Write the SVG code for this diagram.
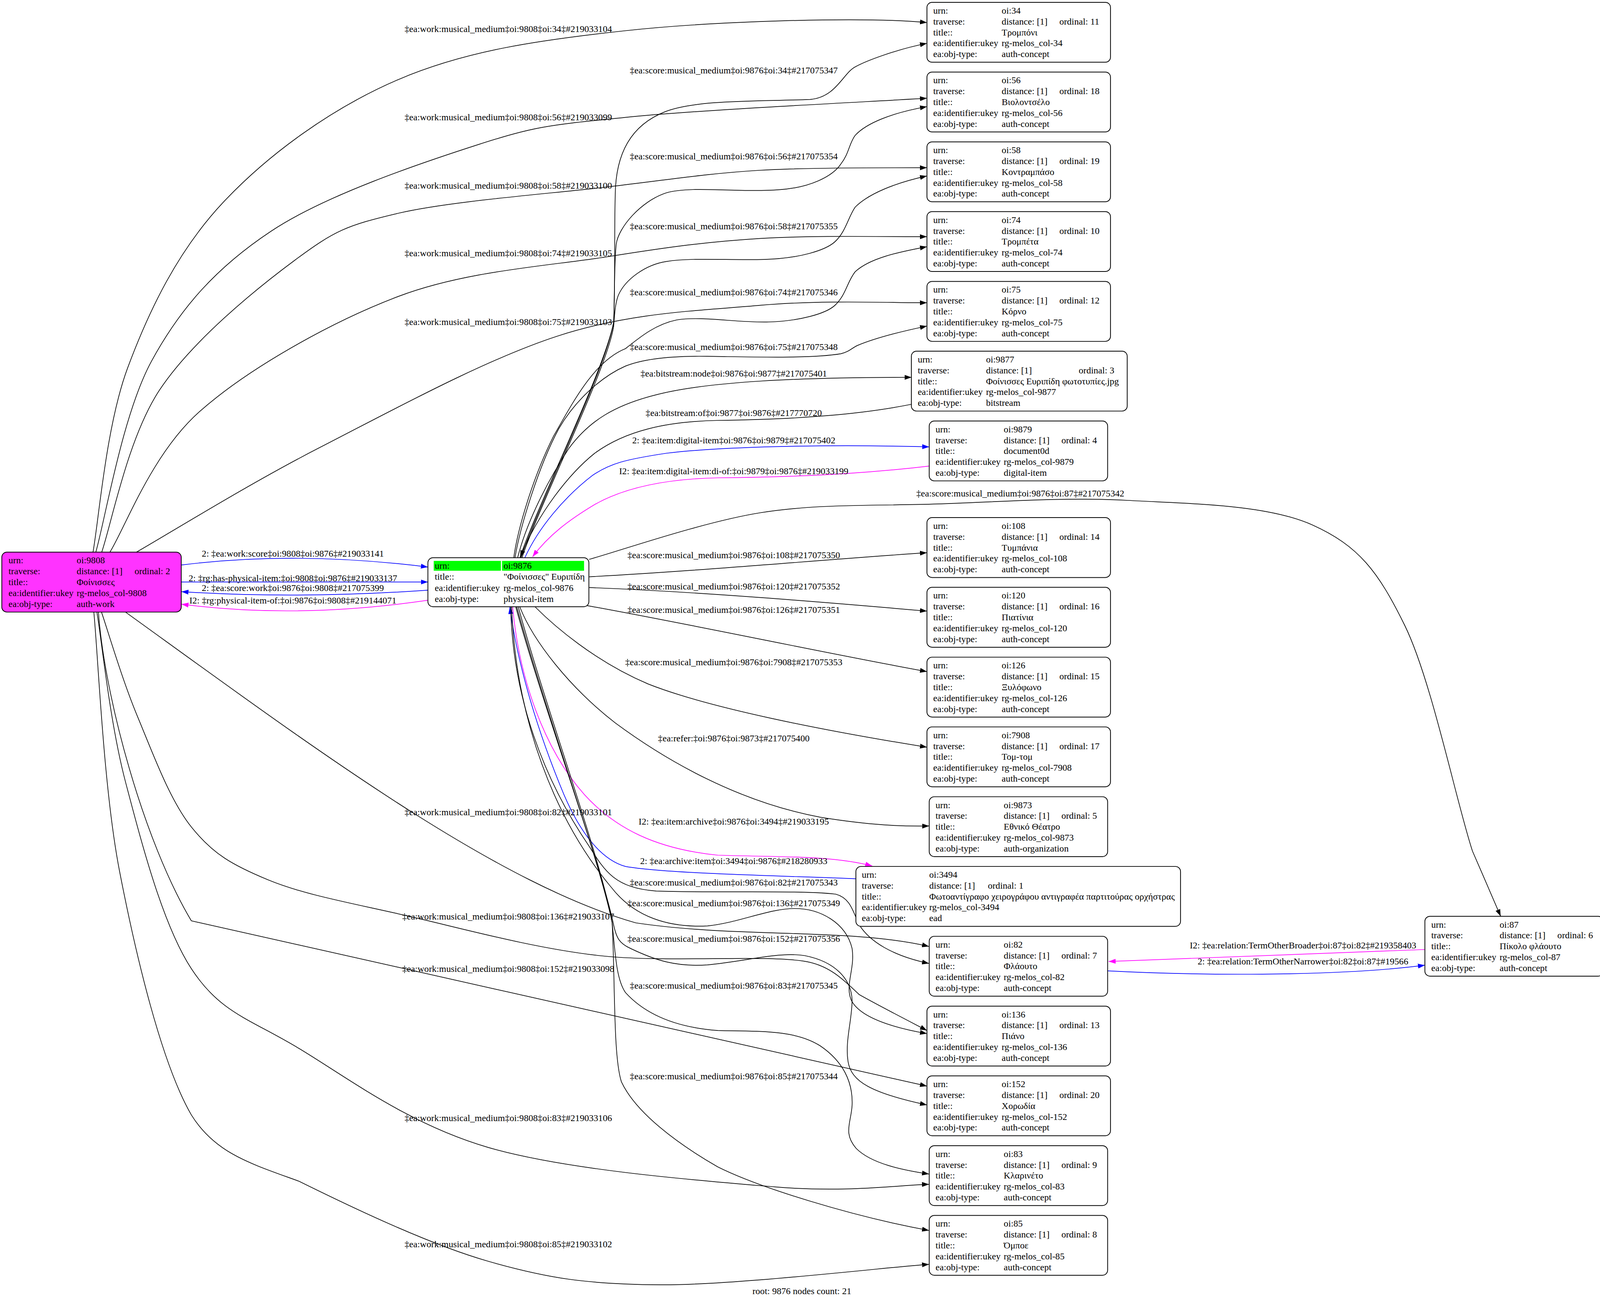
<svg xmlns="http://www.w3.org/2000/svg" width="4112" height="3328" viewBox="0 0 4112 3328">
<style>
text{font-family:'Liberation Serif','Times New Roman',serif;font-size:9px;fill:#000}
.lab{text-anchor:middle}
.n{fill:#fff;stroke:#000;stroke-width:0.75}
.e{fill:none;stroke:#000;stroke-width:0.65}
.k{marker-end:url(#ak)}
.b{stroke:#0000ff}
.bm{marker-end:url(#ab)}
.m{stroke:#ff00ff}
.mm{marker-end:url(#am)}
</style>
<defs>
<marker id="ak" viewBox="0 0 10 7" refX="10" refY="3.5" markerWidth="6.8" markerHeight="4.76" orient="auto" markerUnits="userSpaceOnUse"><path d="M0,0 L10,3.5 L0,7 z" fill="#000"/></marker>
<marker id="ab" viewBox="0 0 10 7" refX="10" refY="3.5" markerWidth="6.8" markerHeight="4.76" orient="auto" markerUnits="userSpaceOnUse"><path d="M0,0 L10,3.5 L0,7 z" fill="#0000ff"/></marker>
<marker id="am" viewBox="0 0 10 7" refX="10" refY="3.5" markerWidth="6.8" markerHeight="4.76" orient="auto" markerUnits="userSpaceOnUse"><path d="M0,0 L10,3.5 L0,7 z" fill="#ff00ff"/></marker>
</defs>
<rect x="0" y="0" width="4112" height="3328" fill="#fff"/>
<g transform="scale(2.625)">
<g id="connectors">
<path class="e k" d="M90.6,539 C96.2,509 103.2,416 124.4,359 C145.6,302 173.6,244.2 217.7,197.3 C261.8,150.4 323.4,105.4 388.7,77.5 C454,49.6 523.8,39.3 609.5,30 C695.2,20.7 840,16 904,22"/>
<path class="e k" d="M93.3,539 C102.4,507.9 119.2,404.6 147.7,352.3 C176.2,300 211.2,260.7 264.3,225.5 C317.4,190.3 408.9,159.5 466.4,141 C523.9,122.5 536.5,122 609.5,114.5 C682.5,107 854.9,98.9 904,95.8"/>
<path class="e k" d="M99,539 C108.4,512.6 124.1,428 155.5,380.5 C186.9,333 248.7,282.5 287.6,253.7 C326.5,224.9 337.5,219.9 388.7,207.9 C439.9,196 536.1,189 595,182 C653.9,175 690.5,169.1 742,166 C793.5,162.9 877,163.9 904,163.5"/>
<path class="e k" d="M106.9,539 C121.5,516.1 147.4,443.3 194.4,401.6 C241.4,359.9 321.9,314.3 388.7,289 C455.5,263.7 536.1,259.4 595,250 C653.9,240.6 690.5,235.7 742,232.5 C793.5,229.3 877,231.1 904,230.8"/>
<path class="e k" d="M132.2,539 C162,522 242.3,472.1 311,436.9 C379.7,401.7 472.4,350.8 544.2,327.6 C616,304.4 682,303.1 742,297.7 C802,292.3 877,295.6 904,295.2"/>
<path class="e k" d="M122.5,597 C300,725 480,860 620,900 C720,915 830,905 906,923"/>
<path class="e k" d="M99,597 C104.8,613.9 119.4,663.6 134,698.5 C148.6,733.4 165.3,779.9 186.6,806.5 C207.9,833.1 227,843.9 262,858.3 C297,872.7 343,880.75 396.5,893 C450,905.25 518.5,924.4 583,931.8 C647.5,939.2 741,930.9 783.5,937.3 C810,941 825,958 838,970 C858.1,981.3 893,999.2 904,1005"/>
<path class="e k" d="M96,597 C102,680 140,820 186.6,898 L904,1059.2"/>
<path class="e k" d="M94.5,597 C99.2,624.7 107.15,705 122.5,763 C137.85,821 158.4,901.5 186.6,944.7 C214.8,987.95 243.4,993.45 291.6,1022.5 C339.8,1051.55 398.7,1096.5 476,1119 C553.3,1141.5 684.3,1151.5 755.6,1157.5 C826.9,1163.5 879.3,1155.4 906,1155"/>
<path class="e k" d="M91.5,597 C95.7,639.1 100.75,768 116.6,849.7 C132.45,931.4 157.4,1036.9 186.6,1087.3 C210,1125 245,1135 291.6,1152 C339.8,1175.8 417.3,1213.2 476,1230 C534.7,1246.8 572.7,1252.5 644,1253 C715.3,1253.5 860.7,1236.3 906,1233"/>
<path class="e b bm" d="M177,551 Q290,537 417.3,553"/>
<path class="e b bm" d="M177,567.6 L417.3,567.6"/>
<path class="e b bm" d="M417.3,575.6 Q290,584.3 177,577"/>
<path class="e m mm" d="M417.3,585.4 Q290,603.9 177,589.2"/>
<path class="e k" d="M507,544 C525,490 590,360 598.5,314 C600,280 599,225 600,190 C600.5,150 615,122 649,108.8 C680,97 740,99 790,97 C815,95 822,72 833.5,65.5 C845,59 875,48 904,42.3"/>
<path class="e k" d="M508,544 C526,490 591,360 598.5,314 C599.5,285 599,255 601,238 C603,222 625,196 650,188 C675,181 720,188 760,185 C790,183 812,172 820,160 C828,150 828,140 834,132 C845,120 870,110 904,104"/>
<path class="e k" d="M509,544 C527,490 592,360 598.5,318 C599.5,305 600,296 603,288 C610,272 630,258 650,255 C675,251 710,254 746,253 C780,252 805,244 814,236 C825,226 827,212 834,202 C848,188 875,178 904,171.6"/>
<path class="e k" d="M501,544 C505,515 520,465 540,425 C560,390 580,352 610,340 C625,328 640,316 660,312 C685,308 720,315 750,314 C780,313 805,306 814,298 C825,288 826,275 834,265 C848,252 875,246 904,240.6"/>
<path class="e k" d="M502.2,544 C507,515 525,455 545,418 C560,392 585,368 610,357 C630,349 660,347 690,347.5 C730,348 790,350 820,345 C828,343 830,340 836,337 C855,329 880,323 904,318"/>
<path class="e k" d="M504.8,544 C512,515 530,475 555,437 C575,410 600,395 640,385 C690,372 780,368 889,368"/>
<path class="e k" d="M888.8,394.3 C840,404 780,409 700,410 C650,411 610,420 580,442 C555,462 525,500 507.3,543.5"/>
<path class="e b bm" d="M511.8,544 C525,515 550,485 578,463.5 C595,452 610,448 650,442 C700,436 800,433 906.2,435.8"/>
<path class="e m mm" d="M906.2,454.5 C860,460 800,465 700,466 C650,467 610,475 580,492 C555,507 535,522 519.4,543"/>
<path class="e k" d="M574.6,545.5 C602.5,537.9 685.2,509 741.8,500 C798.4,491 854.6,493.5 914.3,491.5 C974,489.5 1039,484.6 1100,488 C1161,491.4 1235,491.7 1280,512 C1325,532.3 1344,557 1370,610 C1396,663 1420.4,782.75 1436,830 C1445.2,851.2 1458.9,882.9 1463.5,893.6"/>
<path class="e k" d="M574.6,562.5 C680,557 800,546 904,539"/>
<path class="e k" d="M574.6,573 C680,577 800,587 904,596"/>
<path class="e k" d="M572,590.5 C680,610 800,636 904,655"/>
<path class="e k" d="M522,592 C540,610 580,645 632,667 C690,690 800,712 904,728.7"/>
<path class="e k" d="M507,592 C520,625 555,670 600,705 C650,742 720,782 800,797 C850,805 880,806 906.2,805.5"/>
<path class="e b bm" d="M834.7,857 C760,854 650,852 610,845 C585,838 565,810 550,775 C525,715 505,650 497.2,592"/>
<path class="e m mm" d="M500,592 C506,660 530,730 570,775 C600,808 640,828 700,834 C760,836 810,834 850.6,844.5"/>
<path class="e k" d="M498,592 C500,680 530,760 575,826 C590,850 600,866 640,869 C700,871 780,868 815,872 C830,876 832,890 838,902 C848,918 870,932 906,939.6"/>
<path class="e k" d="M499,592 C503,700 540,800 600,870 C620,893 650,905 690,903 C720,900 750,886 775,886 C800,886 825,900 831,925 C834,945 824,960 830,975 C838,992 870,1002 904,1008"/>
<path class="e k" d="M503,592 C530,690 585,840 598,900 C601,915 604,920 615,925 C640,937 660,943 690,941 C730,937 760,928 785,932 C815,938 830,955 831,975 C831,995 824,1015 827,1035 C830,1055 850,1066 904,1077.6"/>
<path class="e k" d="M504,592 C531,690 585,840 597,900 C600,930 601,955 610,968 C630,990 660,1002 700,1005 C740,1006 775,1004 800,1020 C822,1035 832,1055 831,1078 C830,1095 822,1105 835,1120 C850,1135 880,1141 906,1145"/>
<path class="e k" d="M505.5,592 C532,690 587,840 597,900 C600,960 598,1030 606,1055 C620,1085 660,1115 700,1138 C740,1158 830,1186 906,1200"/>
<path class="e m mm" d="M1389.6,926 L1081.2,937.7"/>
<path class="e b bm" d="M1080.2,946.8 C1160,951 1300,953 1389.6,941.3"/>
<g id="edge-labels">
<text class="lab" x="495.7" y="31.2">‡ea:work:musical_medium‡oi:9808‡oi:34‡#219033104</text>
<text class="lab" x="495.7" y="117.5">‡ea:work:musical_medium‡oi:9808‡oi:56‡#219033099</text>
<text class="lab" x="495.7" y="184">‡ea:work:musical_medium‡oi:9808‡oi:58‡#219033100</text>
<text class="lab" x="495.7" y="250">‡ea:work:musical_medium‡oi:9808‡oi:74‡#219033105</text>
<text class="lab" x="495.7" y="317">‡ea:work:musical_medium‡oi:9808‡oi:75‡#219033103</text>
<text class="lab" x="495.7" y="795.2">‡ea:work:musical_medium‡oi:9808‡oi:82‡#219033101</text>
<text class="lab" x="495.7" y="896.7">‡ea:work:musical_medium‡oi:9808‡oi:136‡#219033107</text>
<text class="lab" x="495.7" y="947.7">‡ea:work:musical_medium‡oi:9808‡oi:152‡#219033098</text>
<text class="lab" x="495.7" y="1093.3">‡ea:work:musical_medium‡oi:9808‡oi:83‡#219033106</text>
<text class="lab" x="495.7" y="1216.4">‡ea:work:musical_medium‡oi:9808‡oi:85‡#219033102</text>
<text class="lab" x="715.6" y="71.8">‡ea:score:musical_medium‡oi:9876‡oi:34‡#217075347</text>
<text class="lab" x="715.6" y="155.5">‡ea:score:musical_medium‡oi:9876‡oi:56‡#217075354</text>
<text class="lab" x="715.6" y="223.5">‡ea:score:musical_medium‡oi:9876‡oi:58‡#217075355</text>
<text class="lab" x="715.6" y="288">‡ea:score:musical_medium‡oi:9876‡oi:74‡#217075346</text>
<text class="lab" x="715.6" y="341.5">‡ea:score:musical_medium‡oi:9876‡oi:75‡#217075348</text>
<text class="lab" x="715.6" y="367.4">‡ea:bitstream:node‡oi:9876‡oi:9877‡#217075401</text>
<text class="lab" x="715.6" y="405.7">‡ea:bitstream:of‡oi:9877‡oi:9876‡#217770720</text>
<text class="lab" x="715.6" y="432.5">2: ‡ea:item:digital-item‡oi:9876‡oi:9879‡#217075402</text>
<text class="lab" x="715.6" y="462.4">I2: ‡ea:item:digital-item:di-of:‡oi:9879‡oi:9876‡#219033199</text>
<text class="lab" x="995" y="484">‡ea:score:musical_medium‡oi:9876‡oi:87‡#217075342</text>
<text class="lab" x="715.6" y="544.5">‡ea:score:musical_medium‡oi:9876‡oi:108‡#217075350</text>
<text class="lab" x="715.6" y="574.7">‡ea:score:musical_medium‡oi:9876‡oi:120‡#217075352</text>
<text class="lab" x="715.6" y="597.7">‡ea:score:musical_medium‡oi:9876‡oi:126‡#217075351</text>
<text class="lab" x="715.6" y="648.7">‡ea:score:musical_medium‡oi:9876‡oi:7908‡#217075353</text>
<text class="lab" x="715.6" y="723">‡ea:refer:‡oi:9876‡oi:9873‡#217075400</text>
<text class="lab" x="715.6" y="804">I2: ‡ea:item:archive‡oi:9876‡oi:3494‡#219033195</text>
<text class="lab" x="715.6" y="842.6">2: ‡ea:archive:item‡oi:3494‡oi:9876‡#218280933</text>
<text class="lab" x="715.6" y="863.7">‡ea:score:musical_medium‡oi:9876‡oi:82‡#217075343</text>
<text class="lab" x="715.6" y="883.7">‡ea:score:musical_medium‡oi:9876‡oi:136‡#217075349</text>
<text class="lab" x="715.6" y="918.4">‡ea:score:musical_medium‡oi:9876‡oi:152‡#217075356</text>
<text class="lab" x="715.6" y="964">‡ea:score:musical_medium‡oi:9876‡oi:83‡#217075345</text>
<text class="lab" x="715.6" y="1052.4">‡ea:score:musical_medium‡oi:9876‡oi:85‡#217075344</text>
<text class="lab" x="285.6" y="543">2: ‡ea:work:score‡oi:9808‡oi:9876‡#219033141</text>
<text class="lab" x="285.6" y="566.8">2: ‡rg:has-physical-item:‡oi:9808‡oi:9876‡#219033137</text>
<text class="lab" x="285.6" y="576.3">2: ‡ea:score:work‡oi:9876‡oi:9808‡#217075399</text>
<text class="lab" x="285.6" y="588.4">I2: ‡rg:physical-item-of:‡oi:9876‡oi:9808‡#219144071</text>
<text class="lab" x="1270.7" y="925.1">I2: ‡ea:relation:TermOtherBroader‡oi:87‡oi:82‡#219358403</text>
<text class="lab" x="1270.7" y="940.7">2: ‡ea:relation:TermOtherNarrower‡oi:82‡oi:87‡#19566</text>
</g>
</g>
<g id="n9808">
<rect x="1.75" y="538.5" width="175" height="58.4" rx="5" fill="#ff33ff" stroke="#000" stroke-width="0.75"/>
<text x="8.3" y="549.5">urn:</text><text x="74.8" y="549.5">oi:9808</text>
<text x="8.3" y="560.1">traverse:</text><text x="74.8" y="560.1">distance: [1]</text><text x="131.2" y="560.1">ordinal: 2</text>
<text x="8.3" y="570.7">title::</text><text x="74.8" y="570.7">Φοίνισσες</text>
<text x="8.3" y="581.3">ea:identifier:ukey</text><text x="74.8" y="581.3">rg-melos_col-9808</text>
<text x="8.3" y="591.9">ea:obj-type:</text><text x="74.8" y="591.9">auth-work</text>
</g>
<g id="n9876">
<rect class="n" x="417.3" y="543.9" width="157" height="47.8" rx="5"/>
<rect x="423" y="547" width="65.5" height="9.6" fill="#00ff00"/>
<rect x="489.6" y="547" width="80" height="9.6" fill="#00ff00"/>
<text x="424" y="554.8">urn:</text><text x="491" y="554.8">oi:9876</text>
<text x="424" y="565.5">title::</text><text x="491" y="565.5">"Φοίνισσες" Ευριπίδη</text>
<text x="424" y="576.3">ea:identifier:ukey</text><text x="491" y="576.3">rg-melos_col-9876</text>
<text x="424" y="586.9">ea:obj-type:</text><text x="491" y="586.9">physical-item</text>
</g>
<g id="n34">
<rect class="n" x="904" y="2.3" width="179" height="58.4" rx="5"/>
<text x="910.1" y="13.3">urn:</text><text x="976.9" y="13.3">oi:34</text>
<text x="910.1" y="23.9">traverse:</text><text x="976.9" y="23.9">distance: [1]</text><text x="1033.1" y="23.9">ordinal: 11</text>
<text x="910.1" y="34.5">title::</text><text x="976.9" y="34.5">Τρομπόνι</text>
<text x="910.1" y="45.1">ea:identifier:ukey</text><text x="976.9" y="45.1">rg-melos_col-34</text>
<text x="910.1" y="55.7">ea:obj-type:</text><text x="976.9" y="55.7">auth-concept</text>
</g>
<g id="n56">
<rect class="n" x="904" y="70.3" width="179" height="58.4" rx="5"/>
<text x="910.1" y="81.3">urn:</text><text x="976.9" y="81.3">oi:56</text>
<text x="910.1" y="91.9">traverse:</text><text x="976.9" y="91.9">distance: [1]</text><text x="1033.1" y="91.9">ordinal: 18</text>
<text x="910.1" y="102.5">title::</text><text x="976.9" y="102.5">Βιολοντσέλο</text>
<text x="910.1" y="113.1">ea:identifier:ukey</text><text x="976.9" y="113.1">rg-melos_col-56</text>
<text x="910.1" y="123.7">ea:obj-type:</text><text x="976.9" y="123.7">auth-concept</text>
</g>
<g id="n58">
<rect class="n" x="904" y="138.4" width="179" height="58.4" rx="5"/>
<text x="910.1" y="149.4">urn:</text><text x="976.9" y="149.4">oi:58</text>
<text x="910.1" y="160">traverse:</text><text x="976.9" y="160">distance: [1]</text><text x="1033.1" y="160">ordinal: 19</text>
<text x="910.1" y="170.6">title::</text><text x="976.9" y="170.6">Κοντραμπάσο</text>
<text x="910.1" y="181.2">ea:identifier:ukey</text><text x="976.9" y="181.2">rg-melos_col-58</text>
<text x="910.1" y="191.8">ea:obj-type:</text><text x="976.9" y="191.8">auth-concept</text>
</g>
<g id="n74">
<rect class="n" x="904" y="206.4" width="179" height="58.4" rx="5"/>
<text x="910.1" y="217.4">urn:</text><text x="976.9" y="217.4">oi:74</text>
<text x="910.1" y="228">traverse:</text><text x="976.9" y="228">distance: [1]</text><text x="1033.1" y="228">ordinal: 10</text>
<text x="910.1" y="238.6">title::</text><text x="976.9" y="238.6">Τρομπέτα</text>
<text x="910.1" y="249.2">ea:identifier:ukey</text><text x="976.9" y="249.2">rg-melos_col-74</text>
<text x="910.1" y="259.8">ea:obj-type:</text><text x="976.9" y="259.8">auth-concept</text>
</g>
<g id="n75">
<rect class="n" x="904" y="274.5" width="179" height="58.4" rx="5"/>
<text x="910.1" y="285.5">urn:</text><text x="976.9" y="285.5">oi:75</text>
<text x="910.1" y="296.1">traverse:</text><text x="976.9" y="296.1">distance: [1]</text><text x="1033.1" y="296.1">ordinal: 12</text>
<text x="910.1" y="306.7">title::</text><text x="976.9" y="306.7">Κόρνο</text>
<text x="910.1" y="317.3">ea:identifier:ukey</text><text x="976.9" y="317.3">rg-melos_col-75</text>
<text x="910.1" y="327.9">ea:obj-type:</text><text x="976.9" y="327.9">auth-concept</text>
</g>
<g id="n9877">
<rect class="n" x="888.8" y="342.5" width="210.5" height="58.4" rx="5"/>
<text x="895" y="353.5">urn:</text><text x="961.6" y="353.5">oi:9877</text>
<text x="895" y="364.1">traverse:</text><text x="961.6" y="364.1">distance: [1]</text><text x="1052" y="364.1">ordinal: 3</text>
<text x="895" y="374.7">title::</text><text x="961.6" y="374.7">Φοίνισσες Ευριπίδη φωτοτυπίες.jpg</text>
<text x="895" y="385.3">ea:identifier:ukey</text><text x="961.6" y="385.3">rg-melos_col-9877</text>
<text x="895" y="395.9">ea:obj-type:</text><text x="961.6" y="395.9">bitstream</text>
</g>
<g id="n9879">
<rect class="n" x="906.2" y="410.6" width="174" height="58.4" rx="5"/>
<text x="912.4" y="421.6">urn:</text><text x="978.9" y="421.6">oi:9879</text>
<text x="912.4" y="432.2">traverse:</text><text x="978.9" y="432.2">distance: [1]</text><text x="1035.1" y="432.2">ordinal: 4</text>
<text x="912.4" y="442.8">title::</text><text x="978.9" y="442.8">document0d</text>
<text x="912.4" y="453.4">ea:identifier:ukey</text><text x="978.9" y="453.4">rg-melos_col-9879</text>
<text x="912.4" y="464">ea:obj-type:</text><text x="978.9" y="464">digital-item</text>
</g>
<g id="n108">
<rect class="n" x="904" y="504.8" width="179" height="58.4" rx="5"/>
<text x="910.1" y="515.8">urn:</text><text x="976.9" y="515.8">oi:108</text>
<text x="910.1" y="526.4">traverse:</text><text x="976.9" y="526.4">distance: [1]</text><text x="1033.1" y="526.4">ordinal: 14</text>
<text x="910.1" y="537">title::</text><text x="976.9" y="537">Τυμπάνια</text>
<text x="910.1" y="547.6">ea:identifier:ukey</text><text x="976.9" y="547.6">rg-melos_col-108</text>
<text x="910.1" y="558.2">ea:obj-type:</text><text x="976.9" y="558.2">auth-concept</text>
</g>
<g id="n120">
<rect class="n" x="904" y="572.8" width="179" height="58.4" rx="5"/>
<text x="910.1" y="583.8">urn:</text><text x="976.9" y="583.8">oi:120</text>
<text x="910.1" y="594.4">traverse:</text><text x="976.9" y="594.4">distance: [1]</text><text x="1033.1" y="594.4">ordinal: 16</text>
<text x="910.1" y="605">title::</text><text x="976.9" y="605">Πιατίνια</text>
<text x="910.1" y="615.6">ea:identifier:ukey</text><text x="976.9" y="615.6">rg-melos_col-120</text>
<text x="910.1" y="626.2">ea:obj-type:</text><text x="976.9" y="626.2">auth-concept</text>
</g>
<g id="n126">
<rect class="n" x="904" y="640.9" width="179" height="58.4" rx="5"/>
<text x="910.1" y="651.9">urn:</text><text x="976.9" y="651.9">oi:126</text>
<text x="910.1" y="662.5">traverse:</text><text x="976.9" y="662.5">distance: [1]</text><text x="1033.1" y="662.5">ordinal: 15</text>
<text x="910.1" y="673.1">title::</text><text x="976.9" y="673.1">Ξυλόφωνο</text>
<text x="910.1" y="683.7">ea:identifier:ukey</text><text x="976.9" y="683.7">rg-melos_col-126</text>
<text x="910.1" y="694.3">ea:obj-type:</text><text x="976.9" y="694.3">auth-concept</text>
</g>
<g id="n7908">
<rect class="n" x="904" y="708.9" width="179" height="58.4" rx="5"/>
<text x="910.1" y="719.9">urn:</text><text x="976.9" y="719.9">oi:7908</text>
<text x="910.1" y="730.5">traverse:</text><text x="976.9" y="730.5">distance: [1]</text><text x="1033.1" y="730.5">ordinal: 17</text>
<text x="910.1" y="741.1">title::</text><text x="976.9" y="741.1">Τομ-τομ</text>
<text x="910.1" y="751.7">ea:identifier:ukey</text><text x="976.9" y="751.7">rg-melos_col-7908</text>
<text x="910.1" y="762.3">ea:obj-type:</text><text x="976.9" y="762.3">auth-concept</text>
</g>
<g id="n9873">
<rect class="n" x="906.2" y="777" width="174" height="58.4" rx="5"/>
<text x="912.4" y="788">urn:</text><text x="978.9" y="788">oi:9873</text>
<text x="912.4" y="798.6">traverse:</text><text x="978.9" y="798.6">distance: [1]</text><text x="1035.1" y="798.6">ordinal: 5</text>
<text x="912.4" y="809.2">title::</text><text x="978.9" y="809.2">Εθνικό Θέατρο</text>
<text x="912.4" y="819.8">ea:identifier:ukey</text><text x="978.9" y="819.8">rg-melos_col-9873</text>
<text x="912.4" y="830.4">ea:obj-type:</text><text x="978.9" y="830.4">auth-organization</text>
</g>
<g id="n3494">
<rect class="n" x="834.7" y="845" width="316.6" height="58.4" rx="5"/>
<text x="840.5" y="856">urn:</text><text x="906.2" y="856">oi:3494</text>
<text x="840.5" y="866.6">traverse:</text><text x="906.2" y="866.6">distance: [1]</text><text x="963.4" y="866.6">ordinal: 1</text>
<text x="840.5" y="877.2">title::</text><text x="906.2" y="877.2">Φωτοαντίγραφο χειρογράφου αντιγραφέα παρτιτούρας ορχήστρας</text>
<text x="840.5" y="887.8">ea:identifier:ukey</text><text x="906.2" y="887.8">rg-melos_col-3494</text>
<text x="840.5" y="898.4">ea:obj-type:</text><text x="906.2" y="898.4">ead</text>
</g>
<g id="n82">
<rect class="n" x="906.2" y="913.1" width="174" height="58.4" rx="5"/>
<text x="912.4" y="924.1">urn:</text><text x="978.9" y="924.1">oi:82</text>
<text x="912.4" y="934.7">traverse:</text><text x="978.9" y="934.7">distance: [1]</text><text x="1035.1" y="934.7">ordinal: 7</text>
<text x="912.4" y="945.3">title::</text><text x="978.9" y="945.3">Φλάουτο</text>
<text x="912.4" y="955.9">ea:identifier:ukey</text><text x="978.9" y="955.9">rg-melos_col-82</text>
<text x="912.4" y="966.5">ea:obj-type:</text><text x="978.9" y="966.5">auth-concept</text>
</g>
<g id="n136">
<rect class="n" x="904" y="981.2" width="179" height="58.4" rx="5"/>
<text x="910.1" y="992.2">urn:</text><text x="976.9" y="992.2">oi:136</text>
<text x="910.1" y="1002.8">traverse:</text><text x="976.9" y="1002.8">distance: [1]</text><text x="1033.1" y="1002.8">ordinal: 13</text>
<text x="910.1" y="1013.4">title::</text><text x="976.9" y="1013.4">Πιάνο</text>
<text x="910.1" y="1024">ea:identifier:ukey</text><text x="976.9" y="1024">rg-melos_col-136</text>
<text x="910.1" y="1034.6">ea:obj-type:</text><text x="976.9" y="1034.6">auth-concept</text>
</g>
<g id="n152">
<rect class="n" x="904" y="1049.2" width="179" height="58.4" rx="5"/>
<text x="910.1" y="1060.2">urn:</text><text x="976.9" y="1060.2">oi:152</text>
<text x="910.1" y="1070.8">traverse:</text><text x="976.9" y="1070.8">distance: [1]</text><text x="1033.1" y="1070.8">ordinal: 20</text>
<text x="910.1" y="1081.4">title::</text><text x="976.9" y="1081.4">Χορωδία</text>
<text x="910.1" y="1092">ea:identifier:ukey</text><text x="976.9" y="1092">rg-melos_col-152</text>
<text x="910.1" y="1102.6">ea:obj-type:</text><text x="976.9" y="1102.6">auth-concept</text>
</g>
<g id="n83">
<rect class="n" x="906.2" y="1117.3" width="174" height="58.4" rx="5"/>
<text x="912.4" y="1128.3">urn:</text><text x="978.9" y="1128.3">oi:83</text>
<text x="912.4" y="1138.9">traverse:</text><text x="978.9" y="1138.9">distance: [1]</text><text x="1035.1" y="1138.9">ordinal: 9</text>
<text x="912.4" y="1149.5">title::</text><text x="978.9" y="1149.5">Κλαρινέτο</text>
<text x="912.4" y="1160.1">ea:identifier:ukey</text><text x="978.9" y="1160.1">rg-melos_col-83</text>
<text x="912.4" y="1170.7">ea:obj-type:</text><text x="978.9" y="1170.7">auth-concept</text>
</g>
<g id="n85">
<rect class="n" x="906.2" y="1185.3" width="174" height="58.4" rx="5"/>
<text x="912.4" y="1196.3">urn:</text><text x="978.9" y="1196.3">oi:85</text>
<text x="912.4" y="1206.9">traverse:</text><text x="978.9" y="1206.9">distance: [1]</text><text x="1035.1" y="1206.9">ordinal: 8</text>
<text x="912.4" y="1217.5">title::</text><text x="978.9" y="1217.5">Όμποε</text>
<text x="912.4" y="1228.1">ea:identifier:ukey</text><text x="978.9" y="1228.1">rg-melos_col-85</text>
<text x="912.4" y="1238.7">ea:obj-type:</text><text x="978.9" y="1238.7">auth-concept</text>
</g>
<g id="n87">
<rect class="n" x="1389.6" y="893.6" width="174" height="58.4" rx="5"/>
<text x="1395.8" y="904.6">urn:</text><text x="1462.5" y="904.6">oi:87</text>
<text x="1395.8" y="915.2">traverse:</text><text x="1462.5" y="915.2">distance: [1]</text><text x="1518.8" y="915.2">ordinal: 6</text>
<text x="1395.8" y="925.8">title::</text><text x="1462.5" y="925.8">Πίκολο φλάουτο</text>
<text x="1395.8" y="936.4">ea:identifier:ukey</text><text x="1462.5" y="936.4">rg-melos_col-87</text>
<text x="1395.8" y="947">ea:obj-type:</text><text x="1462.5" y="947">auth-concept</text>
</g>
<text class="lab" x="782" y="1262.2">root: 9876 nodes count: 21</text>
</g>
</svg>
